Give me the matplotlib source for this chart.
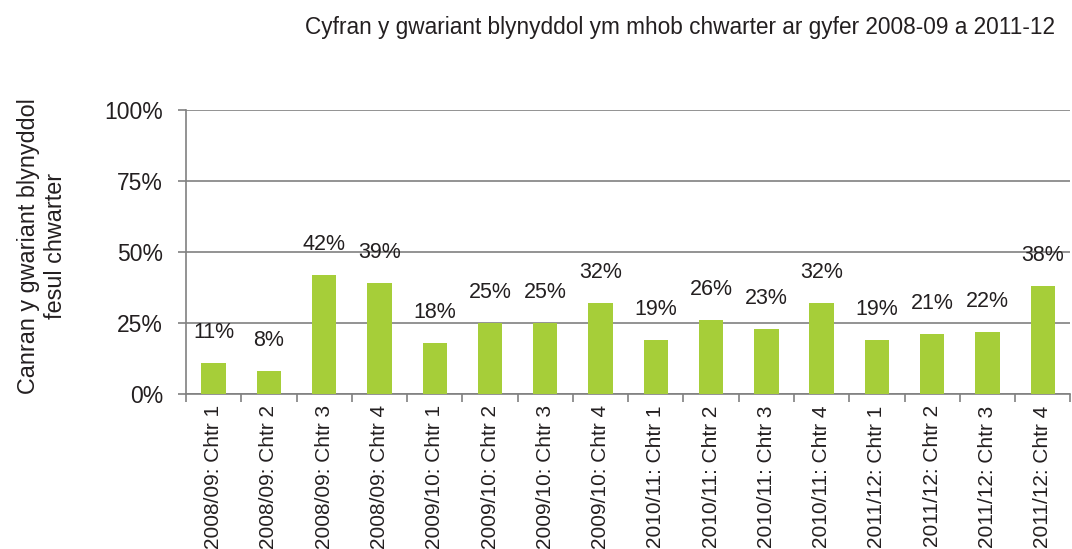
import matplotlib
matplotlib.use("Agg")
import matplotlib.pyplot as plt
import numpy as np

plt.rcParams['font.family'] = ['Liberation Sans', 'DejaVu Sans']

# Data
quarters = ["2008/09: Chtr 1", "2008/09: Chtr 2", "2008/09: Chtr 3", "2008/09: Chtr 4",
            "2009/10: Chtr 1", "2009/10: Chtr 2", "2009/10: Chtr 3", "2009/10: Chtr 4",
            "2010/11: Chtr 1", "2010/11: Chtr 2", "2010/11: Chtr 3", "2010/11: Chtr 4",
            "2011/12: Chtr 1", "2011/12: Chtr 2", "2011/12: Chtr 3", "2011/12: Chtr 4"]
shares = [11, 8, 42, 39, 18, 25, 25, 32, 19, 26, 23, 32, 19, 21, 22, 38]
y_ticks = [0, 25, 50, 75, 100]

bar_color = "#a6ce39"
grid_color = "#808080"
text_color = "#231f20"

fig = plt.figure(figsize=(10.72, 5.49), dpi=100)
ax = fig.add_axes([0.1735, 0.282, 0.825, 0.518])

x = np.arange(len(quarters))
ax.bar(x, shares, width=0.44, color=bar_color, zorder=3)

# value labels above each bar
for xi, v in zip(x, shares):
    ax.annotate(f"{v}%", (xi, v), xytext=(0, 22), textcoords="offset points",
                ha="center", va="center", fontsize=15.5, color=text_color)

ax.set_ylim(0, 100)
ax.set_xlim(-0.5, len(quarters) - 0.5)
ax.set_yticks(y_ticks)
ax.set_yticklabels([f"{t}%" for t in y_ticks], fontsize=16.5, color=text_color)
ax.yaxis.grid(True, color=grid_color, linewidth=1.2, zorder=0)

# category ticks between the bars
ax.set_xticks(x)
ax.set_xticklabels(quarters, rotation=90, fontsize=15, color=text_color)
ax.tick_params(axis="x", length=0, pad=8)
ax.set_xticks(np.arange(len(quarters) + 1) - 0.5, minor=True)
ax.tick_params(axis="x", which="minor", length=6, direction="out", color=grid_color, width=1.2)
ax.tick_params(axis="y", length=6, direction="out", color=grid_color, width=1.2, pad=10.5)

for s in ["top", "right"]:
    ax.spines[s].set_visible(False)
for s in ["left", "bottom"]:
    ax.spines[s].set_color(grid_color)
    ax.spines[s].set_linewidth(1.2)

ax.set_ylabel("Canran y gwariant blynyddol\nfesul chwarter", fontsize=16.8,
              color=text_color, va="center")
ax.yaxis.set_label_coords(-0.163, 0.52)

fig.text(0.634, 0.949, "Cyfran y gwariant blynyddol ym mhob chwarter ar gyfer 2008-09 a 2011-12",
         ha="center", va="center", fontsize=16.3, color=text_color)

fig.savefig("out.png", dpi=100)
